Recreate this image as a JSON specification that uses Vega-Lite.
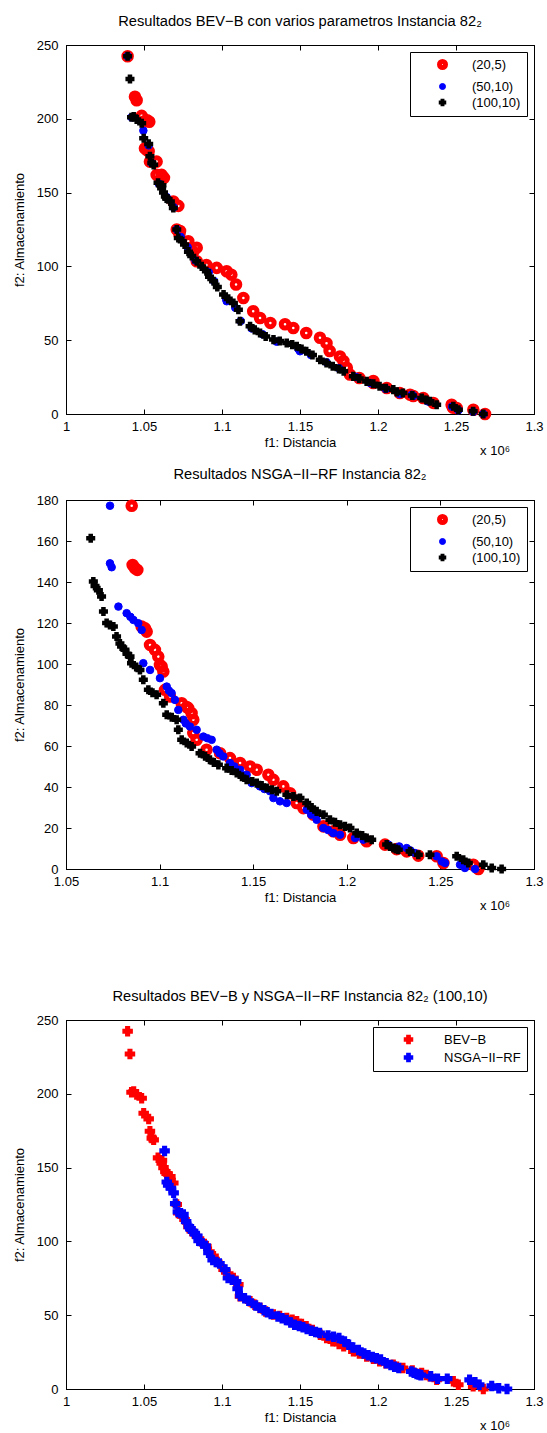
{
  "$schema": "https://vega.github.io/schema/vega-lite/v6.json",
  "padding": {"left": 12, "top": 13, "right": 0, "bottom": 0},
  "background": "white",
  "datasets": {
    "pts": [
      {"alg":"BEV−B","cfg":"(20,5)","f1":1.0395,"f2":242.4},{"alg":"BEV−B","cfg":"(20,5)","f1":1.0442,"f2":215},{"alg":"BEV−B","cfg":"(20,5)","f1":1.0453,"f2":212.6},{"alg":"BEV−B","cfg":"(20,5)","f1":1.0485,"f2":202},{"alg":"BEV−B","cfg":"(20,5)","f1":1.0506,"f2":198.5},{"alg":"BEV−B","cfg":"(20,5)","f1":1.052,"f2":199},{"alg":"BEV−B","cfg":"(20,5)","f1":1.0534,"f2":198},{"alg":"BEV−B","cfg":"(20,5)","f1":1.0506,"f2":180},{"alg":"BEV−B","cfg":"(20,5)","f1":1.0517,"f2":179},{"alg":"BEV−B","cfg":"(20,5)","f1":1.053,"f2":178},{"alg":"BEV−B","cfg":"(20,5)","f1":1.0538,"f2":171},{"alg":"BEV−B","cfg":"(20,5)","f1":1.0581,"f2":171},{"alg":"BEV−B","cfg":"(20,5)","f1":1.0581,"f2":162},{"alg":"BEV−B","cfg":"(20,5)","f1":1.0613,"f2":162},{"alg":"BEV−B","cfg":"(20,5)","f1":1.0628,"f2":160},{"alg":"BEV−B","cfg":"(20,5)","f1":1.0688,"f2":144},{"alg":"BEV−B","cfg":"(20,5)","f1":1.072,"f2":141},{"alg":"BEV−B","cfg":"(20,5)","f1":1.071,"f2":125},{"alg":"BEV−B","cfg":"(20,5)","f1":1.0731,"f2":124},{"alg":"BEV−B","cfg":"(20,5)","f1":1.0727,"f2":121.7},{"alg":"BEV−B","cfg":"(20,5)","f1":1.0784,"f2":117},{"alg":"BEV−B","cfg":"(20,5)","f1":1.0838,"f2":112.7},{"alg":"BEV−B","cfg":"(20,5)","f1":1.0816,"f2":110},{"alg":"BEV−B","cfg":"(20,5)","f1":1.0838,"f2":103.5},{"alg":"BEV−B","cfg":"(20,5)","f1":1.09,"f2":101},{"alg":"BEV−B","cfg":"(20,5)","f1":1.0966,"f2":99},{"alg":"BEV−B","cfg":"(20,5)","f1":1.103,"f2":96.7},{"alg":"BEV−B","cfg":"(20,5)","f1":1.106,"f2":94.4},{"alg":"BEV−B","cfg":"(20,5)","f1":1.109,"f2":87.7},{"alg":"BEV−B","cfg":"(20,5)","f1":1.1137,"f2":78.6},{"alg":"BEV−B","cfg":"(20,5)","f1":1.12,"f2":69.6},{"alg":"BEV−B","cfg":"(20,5)","f1":1.1244,"f2":65},{"alg":"BEV−B","cfg":"(20,5)","f1":1.131,"f2":61.7},{"alg":"BEV−B","cfg":"(20,5)","f1":1.1404,"f2":60.8},{"alg":"BEV−B","cfg":"(20,5)","f1":1.1457,"f2":58.3},{"alg":"BEV−B","cfg":"(20,5)","f1":1.154,"f2":54.9},{"alg":"BEV−B","cfg":"(20,5)","f1":1.1628,"f2":51.7},{"alg":"BEV−B","cfg":"(20,5)","f1":1.167,"f2":48},{"alg":"BEV−B","cfg":"(20,5)","f1":1.169,"f2":42.7},{"alg":"BEV−B","cfg":"(20,5)","f1":1.1756,"f2":39},{"alg":"BEV−B","cfg":"(20,5)","f1":1.1778,"f2":35.9},{"alg":"BEV−B","cfg":"(20,5)","f1":1.18,"f2":31.4},{"alg":"BEV−B","cfg":"(20,5)","f1":1.182,"f2":26.7},{"alg":"BEV−B","cfg":"(20,5)","f1":1.188,"f2":24.4},{"alg":"BEV−B","cfg":"(20,5)","f1":1.197,"f2":21},{"alg":"BEV−B","cfg":"(20,5)","f1":1.197,"f2":22.4},{"alg":"BEV−B","cfg":"(20,5)","f1":1.2056,"f2":17.6},{"alg":"BEV−B","cfg":"(20,5)","f1":1.214,"f2":14.2},{"alg":"BEV−B","cfg":"(20,5)","f1":1.2205,"f2":13.1},{"alg":"BEV−B","cfg":"(20,5)","f1":1.2226,"f2":12.2},{"alg":"BEV−B","cfg":"(20,5)","f1":1.229,"f2":10.8},{"alg":"BEV−B","cfg":"(20,5)","f1":1.2355,"f2":7.5},{"alg":"BEV−B","cfg":"(20,5)","f1":1.2472,"f2":6.3},{"alg":"BEV−B","cfg":"(20,5)","f1":1.248,"f2":4.3},{"alg":"BEV−B","cfg":"(20,5)","f1":1.2504,"f2":4.1},{"alg":"BEV−B","cfg":"(20,5)","f1":1.2611,"f2":2.9},{"alg":"BEV−B","cfg":"(20,5)","f1":1.2686,"f2":0},
      {"alg":"BEV−B","cfg":"(50,10)","f1":1.0395,"f2":242.4},{"alg":"BEV−B","cfg":"(50,10)","f1":1.042,"f2":201},{"alg":"BEV−B","cfg":"(50,10)","f1":1.0496,"f2":192},{"alg":"BEV−B","cfg":"(50,10)","f1":1.053,"f2":182},{"alg":"BEV−B","cfg":"(50,10)","f1":1.055,"f2":170},{"alg":"BEV−B","cfg":"(50,10)","f1":1.0595,"f2":156},{"alg":"BEV−B","cfg":"(50,10)","f1":1.0645,"f2":147},{"alg":"BEV−B","cfg":"(50,10)","f1":1.069,"f2":140},{"alg":"BEV−B","cfg":"(50,10)","f1":1.071,"f2":125},{"alg":"BEV−B","cfg":"(50,10)","f1":1.0735,"f2":120},{"alg":"BEV−B","cfg":"(50,10)","f1":1.078,"f2":113},{"alg":"BEV−B","cfg":"(50,10)","f1":1.083,"f2":104},{"alg":"BEV−B","cfg":"(50,10)","f1":1.0915,"f2":96},{"alg":"BEV−B","cfg":"(50,10)","f1":1.095,"f2":90},{"alg":"BEV−B","cfg":"(50,10)","f1":1.1026,"f2":78},{"alg":"BEV−B","cfg":"(50,10)","f1":1.103,"f2":76.4},{"alg":"BEV−B","cfg":"(50,10)","f1":1.1085,"f2":72},{"alg":"BEV−B","cfg":"(50,10)","f1":1.112,"f2":63},{"alg":"BEV−B","cfg":"(50,10)","f1":1.119,"f2":58},{"alg":"BEV−B","cfg":"(50,10)","f1":1.126,"f2":54},{"alg":"BEV−B","cfg":"(50,10)","f1":1.135,"f2":49},{"alg":"BEV−B","cfg":"(50,10)","f1":1.149,"f2":44},{"alg":"BEV−B","cfg":"(50,10)","f1":1.15,"f2":42.5},{"alg":"BEV−B","cfg":"(50,10)","f1":1.157,"f2":40},{"alg":"BEV−B","cfg":"(50,10)","f1":1.167,"f2":35},{"alg":"BEV−B","cfg":"(50,10)","f1":1.175,"f2":31},{"alg":"BEV−B","cfg":"(50,10)","f1":1.186,"f2":25},{"alg":"BEV−B","cfg":"(50,10)","f1":1.195,"f2":21},{"alg":"BEV−B","cfg":"(50,10)","f1":1.205,"f2":17},{"alg":"BEV−B","cfg":"(50,10)","f1":1.214,"f2":13.5},{"alg":"BEV−B","cfg":"(50,10)","f1":1.2216,"f2":13},{"alg":"BEV−B","cfg":"(50,10)","f1":1.2226,"f2":12.2},{"alg":"BEV−B","cfg":"(50,10)","f1":1.232,"f2":8.5},{"alg":"BEV−B","cfg":"(50,10)","f1":1.2475,"f2":5},{"alg":"BEV−B","cfg":"(50,10)","f1":1.2515,"f2":2.5},{"alg":"BEV−B","cfg":"(50,10)","f1":1.261,"f2":1.5},{"alg":"BEV−B","cfg":"(50,10)","f1":1.2675,"f2":0},
      {"alg":"BEV−B","cfg":"(100,10)","f1":1.0395,"f2":242.4},{"alg":"BEV−B","cfg":"(100,10)","f1":1.041,"f2":227},{"alg":"BEV−B","cfg":"(100,10)","f1":1.042,"f2":201},{"alg":"BEV−B","cfg":"(100,10)","f1":1.0434,"f2":201.5},{"alg":"BEV−B","cfg":"(100,10)","f1":1.0453,"f2":199.5},{"alg":"BEV−B","cfg":"(100,10)","f1":1.0485,"f2":197},{"alg":"BEV−B","cfg":"(100,10)","f1":1.0498,"f2":186.8},{"alg":"BEV−B","cfg":"(100,10)","f1":1.053,"f2":183},{"alg":"BEV−B","cfg":"(100,10)","f1":1.0538,"f2":174.6},{"alg":"BEV−B","cfg":"(100,10)","f1":1.055,"f2":170},{"alg":"BEV−B","cfg":"(100,10)","f1":1.0562,"f2":168.8},{"alg":"BEV−B","cfg":"(100,10)","f1":1.059,"f2":156.6},{"alg":"BEV−B","cfg":"(100,10)","f1":1.0615,"f2":155},{"alg":"BEV−B","cfg":"(100,10)","f1":1.0613,"f2":153},{"alg":"BEV−B","cfg":"(100,10)","f1":1.0625,"f2":150},{"alg":"BEV−B","cfg":"(100,10)","f1":1.0637,"f2":147.3},{"alg":"BEV−B","cfg":"(100,10)","f1":1.0645,"f2":146},{"alg":"BEV−B","cfg":"(100,10)","f1":1.0669,"f2":144},{"alg":"BEV−B","cfg":"(100,10)","f1":1.0688,"f2":139.6},{"alg":"BEV−B","cfg":"(100,10)","f1":1.071,"f2":125},{"alg":"BEV−B","cfg":"(100,10)","f1":1.072,"f2":119.3},{"alg":"BEV−B","cfg":"(100,10)","f1":1.0745,"f2":117},{"alg":"BEV−B","cfg":"(100,10)","f1":1.076,"f2":114.8},{"alg":"BEV−B","cfg":"(100,10)","f1":1.0785,"f2":110},{"alg":"BEV−B","cfg":"(100,10)","f1":1.0806,"f2":107},{"alg":"BEV−B","cfg":"(100,10)","f1":1.0838,"f2":103.5},{"alg":"BEV−B","cfg":"(100,10)","f1":1.087,"f2":100},{"alg":"BEV−B","cfg":"(100,10)","f1":1.09,"f2":96.7},{"alg":"BEV−B","cfg":"(100,10)","f1":1.092,"f2":93},{"alg":"BEV−B","cfg":"(100,10)","f1":1.0946,"f2":90},{"alg":"BEV−B","cfg":"(100,10)","f1":1.097,"f2":86},{"alg":"BEV−B","cfg":"(100,10)","f1":1.101,"f2":81},{"alg":"BEV−B","cfg":"(100,10)","f1":1.104,"f2":78},{"alg":"BEV−B","cfg":"(100,10)","f1":1.1073,"f2":75.2},{"alg":"BEV−B","cfg":"(100,10)","f1":1.1105,"f2":70.7},{"alg":"BEV−B","cfg":"(100,10)","f1":1.1115,"f2":62.8},{"alg":"BEV−B","cfg":"(100,10)","f1":1.118,"f2":59.4},{"alg":"BEV−B","cfg":"(100,10)","f1":1.121,"f2":57},{"alg":"BEV−B","cfg":"(100,10)","f1":1.1244,"f2":54.9},{"alg":"BEV−B","cfg":"(100,10)","f1":1.128,"f2":52.5},{"alg":"BEV−B","cfg":"(100,10)","f1":1.133,"f2":50.4},{"alg":"BEV−B","cfg":"(100,10)","f1":1.137,"f2":49.5},{"alg":"BEV−B","cfg":"(100,10)","f1":1.1415,"f2":48.1},{"alg":"BEV−B","cfg":"(100,10)","f1":1.145,"f2":47},{"alg":"BEV−B","cfg":"(100,10)","f1":1.1479,"f2":45.9},{"alg":"BEV−B","cfg":"(100,10)","f1":1.151,"f2":44},{"alg":"BEV−B","cfg":"(100,10)","f1":1.154,"f2":42.5},{"alg":"BEV−B","cfg":"(100,10)","f1":1.158,"f2":40},{"alg":"BEV−B","cfg":"(100,10)","f1":1.163,"f2":36.8},{"alg":"BEV−B","cfg":"(100,10)","f1":1.167,"f2":34.5},{"alg":"BEV−B","cfg":"(100,10)","f1":1.171,"f2":32.3},{"alg":"BEV−B","cfg":"(100,10)","f1":1.175,"f2":30.5},{"alg":"BEV−B","cfg":"(100,10)","f1":1.178,"f2":28.9},{"alg":"BEV−B","cfg":"(100,10)","f1":1.1842,"f2":25.5},{"alg":"BEV−B","cfg":"(100,10)","f1":1.188,"f2":24},{"alg":"BEV−B","cfg":"(100,10)","f1":1.1927,"f2":22.1},{"alg":"BEV−B","cfg":"(100,10)","f1":1.197,"f2":20.5},{"alg":"BEV−B","cfg":"(100,10)","f1":1.201,"f2":18.8},{"alg":"BEV−B","cfg":"(100,10)","f1":1.205,"f2":17.5},{"alg":"BEV−B","cfg":"(100,10)","f1":1.2098,"f2":16.5},{"alg":"BEV−B","cfg":"(100,10)","f1":1.212,"f2":15},{"alg":"BEV−B","cfg":"(100,10)","f1":1.216,"f2":14.2},{"alg":"BEV−B","cfg":"(100,10)","f1":1.222,"f2":12.5},{"alg":"BEV−B","cfg":"(100,10)","f1":1.228,"f2":10.8},{"alg":"BEV−B","cfg":"(100,10)","f1":1.231,"f2":9.5},{"alg":"BEV−B","cfg":"(100,10)","f1":1.2333,"f2":8.6},{"alg":"BEV−B","cfg":"(100,10)","f1":1.2376,"f2":6.3},{"alg":"BEV−B","cfg":"(100,10)","f1":1.2483,"f2":5.2},{"alg":"BEV−B","cfg":"(100,10)","f1":1.2515,"f2":2.9},{"alg":"BEV−B","cfg":"(100,10)","f1":1.261,"f2":1.8},{"alg":"BEV−B","cfg":"(100,10)","f1":1.2675,"f2":0},
      {"alg":"NSGA−II−RF","cfg":"(20,5)","f1":1.0851,"f2":177.2},{"alg":"NSGA−II−RF","cfg":"(20,5)","f1":1.0856,"f2":148.3},{"alg":"NSGA−II−RF","cfg":"(20,5)","f1":1.0869,"f2":146.7},{"alg":"NSGA−II−RF","cfg":"(20,5)","f1":1.0881,"f2":145.9},{"alg":"NSGA−II−RF","cfg":"(20,5)","f1":1.0904,"f2":118.3},{"alg":"NSGA−II−RF","cfg":"(20,5)","f1":1.0922,"f2":117.4},{"alg":"NSGA−II−RF","cfg":"(20,5)","f1":1.0931,"f2":115.8},{"alg":"NSGA−II−RF","cfg":"(20,5)","f1":1.0949,"f2":109.3},{"alg":"NSGA−II−RF","cfg":"(20,5)","f1":1.0975,"f2":106.9},{"alg":"NSGA−II−RF","cfg":"(20,5)","f1":1.0993,"f2":103.6},{"alg":"NSGA−II−RF","cfg":"(20,5)","f1":1.1002,"f2":99.5},{"alg":"NSGA−II−RF","cfg":"(20,5)","f1":1.1011,"f2":98.8},{"alg":"NSGA−II−RF","cfg":"(20,5)","f1":1.102,"f2":96.3},{"alg":"NSGA−II−RF","cfg":"(20,5)","f1":1.1029,"f2":87.4},{"alg":"NSGA−II−RF","cfg":"(20,5)","f1":1.1056,"f2":84.1},{"alg":"NSGA−II−RF","cfg":"(20,5)","f1":1.1118,"f2":80.9},{"alg":"NSGA−II−RF","cfg":"(20,5)","f1":1.1145,"f2":79},{"alg":"NSGA−II−RF","cfg":"(20,5)","f1":1.1153,"f2":78.5},{"alg":"NSGA−II−RF","cfg":"(20,5)","f1":1.1171,"f2":76},{"alg":"NSGA−II−RF","cfg":"(20,5)","f1":1.118,"f2":72.8},{"alg":"NSGA−II−RF","cfg":"(20,5)","f1":1.118,"f2":66.3},{"alg":"NSGA−II−RF","cfg":"(20,5)","f1":1.1198,"f2":63},{"alg":"NSGA−II−RF","cfg":"(20,5)","f1":1.1251,"f2":58.2},{"alg":"NSGA−II−RF","cfg":"(20,5)","f1":1.1323,"f2":56.5},{"alg":"NSGA−II−RF","cfg":"(20,5)","f1":1.1376,"f2":54.1},{"alg":"NSGA−II−RF","cfg":"(20,5)","f1":1.143,"f2":51.7},{"alg":"NSGA−II−RF","cfg":"(20,5)","f1":1.1483,"f2":50},{"alg":"NSGA−II−RF","cfg":"(20,5)","f1":1.1519,"f2":48.4},{"alg":"NSGA−II−RF","cfg":"(20,5)","f1":1.1581,"f2":46},{"alg":"NSGA−II−RF","cfg":"(20,5)","f1":1.1608,"f2":43.5},{"alg":"NSGA−II−RF","cfg":"(20,5)","f1":1.1661,"f2":40.3},{"alg":"NSGA−II−RF","cfg":"(20,5)","f1":1.1697,"f2":37},{"alg":"NSGA−II−RF","cfg":"(20,5)","f1":1.1732,"f2":32.2},{"alg":"NSGA−II−RF","cfg":"(20,5)","f1":1.1768,"f2":29.7},{"alg":"NSGA−II−RF","cfg":"(20,5)","f1":1.1821,"f2":26.5},{"alg":"NSGA−II−RF","cfg":"(20,5)","f1":1.1875,"f2":20.8},{"alg":"NSGA−II−RF","cfg":"(20,5)","f1":1.1928,"f2":18.4},{"alg":"NSGA−II−RF","cfg":"(20,5)","f1":1.1964,"f2":16.7},{"alg":"NSGA−II−RF","cfg":"(20,5)","f1":1.2035,"f2":15.1},{"alg":"NSGA−II−RF","cfg":"(20,5)","f1":1.2106,"f2":13.5},{"alg":"NSGA−II−RF","cfg":"(20,5)","f1":1.2204,"f2":11.9},{"alg":"NSGA−II−RF","cfg":"(20,5)","f1":1.2266,"f2":9.7},{"alg":"NSGA−II−RF","cfg":"(20,5)","f1":1.232,"f2":8.6},{"alg":"NSGA−II−RF","cfg":"(20,5)","f1":1.2382,"f2":6.5},{"alg":"NSGA−II−RF","cfg":"(20,5)","f1":1.248,"f2":6.2},{"alg":"NSGA−II−RF","cfg":"(20,5)","f1":1.2516,"f2":2.9},{"alg":"NSGA−II−RF","cfg":"(20,5)","f1":1.2676,"f2":2.1},{"alg":"NSGA−II−RF","cfg":"(20,5)","f1":1.2703,"f2":0},
      {"alg":"NSGA−II−RF","cfg":"(50,10)","f1":1.0735,"f2":177.2},{"alg":"NSGA−II−RF","cfg":"(50,10)","f1":1.0735,"f2":149.1},{"alg":"NSGA−II−RF","cfg":"(50,10)","f1":1.0744,"f2":147.2},{"alg":"NSGA−II−RF","cfg":"(50,10)","f1":1.078,"f2":128},{"alg":"NSGA−II−RF","cfg":"(50,10)","f1":1.0824,"f2":124.8},{"alg":"NSGA−II−RF","cfg":"(50,10)","f1":1.0844,"f2":123},{"alg":"NSGA−II−RF","cfg":"(50,10)","f1":1.086,"f2":121.5},{"alg":"NSGA−II−RF","cfg":"(50,10)","f1":1.0886,"f2":119.9},{"alg":"NSGA−II−RF","cfg":"(50,10)","f1":1.0904,"f2":116.6},{"alg":"NSGA−II−RF","cfg":"(50,10)","f1":1.0913,"f2":100.4},{"alg":"NSGA−II−RF","cfg":"(50,10)","f1":1.0949,"f2":97.1},{"alg":"NSGA−II−RF","cfg":"(50,10)","f1":1.1002,"f2":93.1},{"alg":"NSGA−II−RF","cfg":"(50,10)","f1":1.1038,"f2":89},{"alg":"NSGA−II−RF","cfg":"(50,10)","f1":1.105,"f2":87},{"alg":"NSGA−II−RF","cfg":"(50,10)","f1":1.1064,"f2":85.8},{"alg":"NSGA−II−RF","cfg":"(50,10)","f1":1.1082,"f2":82.5},{"alg":"NSGA−II−RF","cfg":"(50,10)","f1":1.11,"f2":77.6},{"alg":"NSGA−II−RF","cfg":"(50,10)","f1":1.1127,"f2":72.8},{"alg":"NSGA−II−RF","cfg":"(50,10)","f1":1.114,"f2":71},{"alg":"NSGA−II−RF","cfg":"(50,10)","f1":1.1162,"f2":69.5},{"alg":"NSGA−II−RF","cfg":"(50,10)","f1":1.1198,"f2":67.9},{"alg":"NSGA−II−RF","cfg":"(50,10)","f1":1.1234,"f2":64.6},{"alg":"NSGA−II−RF","cfg":"(50,10)","f1":1.1255,"f2":63.8},{"alg":"NSGA−II−RF","cfg":"(50,10)","f1":1.1278,"f2":63},{"alg":"NSGA−II−RF","cfg":"(50,10)","f1":1.1305,"f2":58.2},{"alg":"NSGA−II−RF","cfg":"(50,10)","f1":1.132,"f2":56.5},{"alg":"NSGA−II−RF","cfg":"(50,10)","f1":1.134,"f2":54.9},{"alg":"NSGA−II−RF","cfg":"(50,10)","f1":1.1376,"f2":51.7},{"alg":"NSGA−II−RF","cfg":"(50,10)","f1":1.14,"f2":50},{"alg":"NSGA−II−RF","cfg":"(50,10)","f1":1.143,"f2":48.4},{"alg":"NSGA−II−RF","cfg":"(50,10)","f1":1.1465,"f2":46},{"alg":"NSGA−II−RF","cfg":"(50,10)","f1":1.1492,"f2":41.9},{"alg":"NSGA−II−RF","cfg":"(50,10)","f1":1.1536,"f2":40.3},{"alg":"NSGA−II−RF","cfg":"(50,10)","f1":1.156,"f2":39},{"alg":"NSGA−II−RF","cfg":"(50,10)","f1":1.159,"f2":37.9},{"alg":"NSGA−II−RF","cfg":"(50,10)","f1":1.1608,"f2":34.6},{"alg":"NSGA−II−RF","cfg":"(50,10)","f1":1.1643,"f2":33},{"alg":"NSGA−II−RF","cfg":"(50,10)","f1":1.1679,"f2":32.2},{"alg":"NSGA−II−RF","cfg":"(50,10)","f1":1.1786,"f2":28.9},{"alg":"NSGA−II−RF","cfg":"(50,10)","f1":1.181,"f2":26.5},{"alg":"NSGA−II−RF","cfg":"(50,10)","f1":1.1839,"f2":24},{"alg":"NSGA−II−RF","cfg":"(50,10)","f1":1.1875,"f2":20},{"alg":"NSGA−II−RF","cfg":"(50,10)","f1":1.19,"f2":19},{"alg":"NSGA−II−RF","cfg":"(50,10)","f1":1.1928,"f2":17.5},{"alg":"NSGA−II−RF","cfg":"(50,10)","f1":1.1964,"f2":16.7},{"alg":"NSGA−II−RF","cfg":"(50,10)","f1":1.2044,"f2":15.1},{"alg":"NSGA−II−RF","cfg":"(50,10)","f1":1.2088,"f2":14.3},{"alg":"NSGA−II−RF","cfg":"(50,10)","f1":1.2222,"f2":11.9},{"alg":"NSGA−II−RF","cfg":"(50,10)","f1":1.228,"f2":11},{"alg":"NSGA−II−RF","cfg":"(50,10)","f1":1.232,"f2":10.2},{"alg":"NSGA−II−RF","cfg":"(50,10)","f1":1.234,"f2":9},{"alg":"NSGA−II−RF","cfg":"(50,10)","f1":1.2364,"f2":7.8},{"alg":"NSGA−II−RF","cfg":"(50,10)","f1":1.248,"f2":6.2},{"alg":"NSGA−II−RF","cfg":"(50,10)","f1":1.2507,"f2":3.7},{"alg":"NSGA−II−RF","cfg":"(50,10)","f1":1.2525,"f2":2.9},{"alg":"NSGA−II−RF","cfg":"(50,10)","f1":1.2605,"f2":2.1},{"alg":"NSGA−II−RF","cfg":"(50,10)","f1":1.2631,"f2":0.5},{"alg":"NSGA−II−RF","cfg":"(50,10)","f1":1.2685,"f2":0},
      {"alg":"NSGA−II−RF","cfg":"(100,10)","f1":1.0632,"f2":161.3},{"alg":"NSGA−II−RF","cfg":"(100,10)","f1":1.0646,"f2":140.2},{"alg":"NSGA−II−RF","cfg":"(100,10)","f1":1.0655,"f2":138},{"alg":"NSGA−II−RF","cfg":"(100,10)","f1":1.0673,"f2":136},{"alg":"NSGA−II−RF","cfg":"(100,10)","f1":1.069,"f2":132.9},{"alg":"NSGA−II−RF","cfg":"(100,10)","f1":1.07,"f2":125.6},{"alg":"NSGA−II−RF","cfg":"(100,10)","f1":1.0717,"f2":120},{"alg":"NSGA−II−RF","cfg":"(100,10)","f1":1.0735,"f2":119},{"alg":"NSGA−II−RF","cfg":"(100,10)","f1":1.0753,"f2":118.3},{"alg":"NSGA−II−RF","cfg":"(100,10)","f1":1.077,"f2":113.4},{"alg":"NSGA−II−RF","cfg":"(100,10)","f1":1.0788,"f2":110},{"alg":"NSGA−II−RF","cfg":"(100,10)","f1":1.0797,"f2":108.5},{"alg":"NSGA−II−RF","cfg":"(100,10)","f1":1.0815,"f2":106.9},{"alg":"NSGA−II−RF","cfg":"(100,10)","f1":1.0826,"f2":105},{"alg":"NSGA−II−RF","cfg":"(100,10)","f1":1.0842,"f2":103.6},{"alg":"NSGA−II−RF","cfg":"(100,10)","f1":1.085,"f2":100.4},{"alg":"NSGA−II−RF","cfg":"(100,10)","f1":1.0875,"f2":98.5},{"alg":"NSGA−II−RF","cfg":"(100,10)","f1":1.0895,"f2":97.1},{"alg":"NSGA−II−RF","cfg":"(100,10)","f1":1.0913,"f2":92.3},{"alg":"NSGA−II−RF","cfg":"(100,10)","f1":1.094,"f2":87.4},{"alg":"NSGA−II−RF","cfg":"(100,10)","f1":1.0962,"f2":86},{"alg":"NSGA−II−RF","cfg":"(100,10)","f1":1.0984,"f2":85},{"alg":"NSGA−II−RF","cfg":"(100,10)","f1":1.102,"f2":80.9},{"alg":"NSGA−II−RF","cfg":"(100,10)","f1":1.1038,"f2":75.2},{"alg":"NSGA−II−RF","cfg":"(100,10)","f1":1.1065,"f2":74},{"alg":"NSGA−II−RF","cfg":"(100,10)","f1":1.1091,"f2":72.8},{"alg":"NSGA−II−RF","cfg":"(100,10)","f1":1.11,"f2":67.9},{"alg":"NSGA−II−RF","cfg":"(100,10)","f1":1.1118,"f2":63},{"alg":"NSGA−II−RF","cfg":"(100,10)","f1":1.1145,"f2":61.5},{"alg":"NSGA−II−RF","cfg":"(100,10)","f1":1.1171,"f2":59.8},{"alg":"NSGA−II−RF","cfg":"(100,10)","f1":1.1216,"f2":56.5},{"alg":"NSGA−II−RF","cfg":"(100,10)","f1":1.1243,"f2":55},{"alg":"NSGA−II−RF","cfg":"(100,10)","f1":1.1269,"f2":53.3},{"alg":"NSGA−II−RF","cfg":"(100,10)","f1":1.129,"f2":52},{"alg":"NSGA−II−RF","cfg":"(100,10)","f1":1.1314,"f2":50.8},{"alg":"NSGA−II−RF","cfg":"(100,10)","f1":1.1358,"f2":49.2},{"alg":"NSGA−II−RF","cfg":"(100,10)","f1":1.1385,"f2":48},{"alg":"NSGA−II−RF","cfg":"(100,10)","f1":1.1412,"f2":46.8},{"alg":"NSGA−II−RF","cfg":"(100,10)","f1":1.144,"f2":45},{"alg":"NSGA−II−RF","cfg":"(100,10)","f1":1.1465,"f2":43.5},{"alg":"NSGA−II−RF","cfg":"(100,10)","f1":1.1495,"f2":42.7},{"alg":"NSGA−II−RF","cfg":"(100,10)","f1":1.1519,"f2":41.9},{"alg":"NSGA−II−RF","cfg":"(100,10)","f1":1.1545,"f2":40.7},{"alg":"NSGA−II−RF","cfg":"(100,10)","f1":1.1572,"f2":39.5},{"alg":"NSGA−II−RF","cfg":"(100,10)","f1":1.16,"f2":38.7},{"alg":"NSGA−II−RF","cfg":"(100,10)","f1":1.1626,"f2":37.9},{"alg":"NSGA−II−RF","cfg":"(100,10)","f1":1.168,"f2":36.2},{"alg":"NSGA−II−RF","cfg":"(100,10)","f1":1.1715,"f2":35.4},{"alg":"NSGA−II−RF","cfg":"(100,10)","f1":1.175,"f2":34.6},{"alg":"NSGA−II−RF","cfg":"(100,10)","f1":1.1786,"f2":32.2},{"alg":"NSGA−II−RF","cfg":"(100,10)","f1":1.1812,"f2":30},{"alg":"NSGA−II−RF","cfg":"(100,10)","f1":1.1839,"f2":28.1},{"alg":"NSGA−II−RF","cfg":"(100,10)","f1":1.1875,"f2":26.5},{"alg":"NSGA−II−RF","cfg":"(100,10)","f1":1.191,"f2":24},{"alg":"NSGA−II−RF","cfg":"(100,10)","f1":1.1937,"f2":22.8},{"alg":"NSGA−II−RF","cfg":"(100,10)","f1":1.1964,"f2":21.6},{"alg":"NSGA−II−RF","cfg":"(100,10)","f1":1.199,"f2":20.8},{"alg":"NSGA−II−RF","cfg":"(100,10)","f1":1.2017,"f2":20},{"alg":"NSGA−II−RF","cfg":"(100,10)","f1":1.2053,"f2":17.5},{"alg":"NSGA−II−RF","cfg":"(100,10)","f1":1.2082,"f2":16.3},{"alg":"NSGA−II−RF","cfg":"(100,10)","f1":1.2106,"f2":15.1},{"alg":"NSGA−II−RF","cfg":"(100,10)","f1":1.2133,"f2":14.3},{"alg":"NSGA−II−RF","cfg":"(100,10)","f1":1.2213,"f2":11.9},{"alg":"NSGA−II−RF","cfg":"(100,10)","f1":1.2231,"f2":11},{"alg":"NSGA−II−RF","cfg":"(100,10)","f1":1.2249,"f2":10.2},{"alg":"NSGA−II−RF","cfg":"(100,10)","f1":1.2262,"f2":9.8},{"alg":"NSGA−II−RF","cfg":"(100,10)","f1":1.2275,"f2":9.4},{"alg":"NSGA−II−RF","cfg":"(100,10)","f1":1.2338,"f2":8.6},{"alg":"NSGA−II−RF","cfg":"(100,10)","f1":1.2382,"f2":7},{"alg":"NSGA−II−RF","cfg":"(100,10)","f1":1.2444,"f2":7},{"alg":"NSGA−II−RF","cfg":"(100,10)","f1":1.2587,"f2":6.2},{"alg":"NSGA−II−RF","cfg":"(100,10)","f1":1.2622,"f2":4.5},{"alg":"NSGA−II−RF","cfg":"(100,10)","f1":1.2649,"f2":2.9},{"alg":"NSGA−II−RF","cfg":"(100,10)","f1":1.2729,"f2":2.1},{"alg":"NSGA−II−RF","cfg":"(100,10)","f1":1.2774,"f2":0.5},{"alg":"NSGA−II−RF","cfg":"(100,10)","f1":1.2827,"f2":0}
    ]
  },
  "config": {
    "font": "Liberation Sans",
    "view": {"stroke": "#000000", "strokeWidth": 1},
    "axis": {"labelFont": "Liberation Sans", "labelFontSize": 13, "titleFont": "Liberation Sans", "titleFontSize": 13, "titleFontWeight": "normal", "labelColor": "#000000", "titleColor": "#000000", "domainColor": "#000000", "tickColor": "#000000", "grid": false, "tickSize": -5, "labelFlush": false, "labelOverlap": false},
    "axisX": {"labelPadding": 11, "titlePadding": 3},
    "axisY": {"labelPadding": 13, "titlePadding": 10},
    "title": {"font": "Liberation Sans", "fontSize": 14.7, "fontWeight": "normal", "color": "#000000", "anchor": "middle", "baseline": "alphabetic", "offset": 10},
    "legend": {"orient": "top-right", "offset": 7, "strokeColor": "#000000", "fillColor": "#ffffff", "padding": 6, "symbolOffset": 20, "labelOffset": 23, "rowPadding": 2, "symbolSize": 36, "labelFont": "Liberation Sans", "labelFontSize": 13, "labelColor": "#000000", "cornerRadius": 0}
  },
  "spacing": 74,
  "resolve": {
    "scale": {"fill": "independent", "stroke": "independent", "shape": "independent", "strokeWidth": "independent"},
    "legend": {"fill": "independent", "stroke": "independent", "shape": "independent", "strokeWidth": "independent"}
  },
  "vconcat": [
    {
      "spacing": 7,
      "resolve": {
        "scale": {"fill": "independent", "stroke": "independent", "shape": "independent", "strokeWidth": "independent"},
        "legend": {"fill": "independent", "stroke": "independent", "shape": "independent", "strokeWidth": "independent"}
      },
      "vconcat": [
        {
          "width": 468, "height": 369,
          "title": {"text": "Resultados BEV−B con varios parametros Instancia 82₂"},
          "layer": [
            {
              "data": {"name": "pts"},
              "transform": [{"filter": "datum.alg == 'BEV−B'"}],
              "mark": {"type": "point", "size": 57, "opacity": 1},
              "encoding": {
                "x": {"field": "f1", "type": "quantitative", "scale": {"domain": [1, 1.3], "nice": false, "zero": false}, "axis": {"title": "f1: Distancia", "values": [1, 1.05, 1.1, 1.15, 1.2, 1.25, 1.3], "format": "~g"}},
                "y": {"field": "f2", "type": "quantitative", "scale": {"domain": [0, 250], "nice": false}, "axis": {"title": "f2: Almacenamiento", "values": [0, 50, 100, 150, 200, 250]}},
                "stroke": {"field": "cfg", "type": "nominal", "scale": {"domain": ["(20,5)", "(50,10)", "(100,10)"], "range": ["#ff0000", "#0000ff", "#000000"]}, "legend": {"title": null, "encode": {"symbols": {"update": {"size": {"value": 36}}}}}},
                "fill": {"field": "cfg", "type": "nominal", "scale": {"domain": ["(20,5)", "(50,10)", "(100,10)"], "range": ["transparent", "#0000ff", "#000000"]}, "legend": {"title": null}},
                "shape": {"field": "cfg", "type": "nominal", "scale": {"domain": ["(20,5)", "(50,10)", "(100,10)"], "range": ["circle", "circle", "cross"]}, "legend": {"title": null}},
                "strokeWidth": {"field": "cfg", "type": "nominal", "scale": {"type": "ordinal", "domain": ["(20,5)", "(50,10)", "(100,10)"], "range": [5, 1, 1.5]}, "legend": {"title": null}}
              }
            },
            {
              "data": {"values": [{}]},
              "mark": {"type": "text", "text": "x 10⁶", "align": "right", "baseline": "middle", "dx": -24, "dy": 37, "font": "Liberation Sans", "fontSize": 13, "color": "#000000"},
              "encoding": {
                "x": {"datum": 1.3, "type": "quantitative", "axis": {"orient": "top", "labels": false, "title": null, "values": [1, 1.05, 1.1, 1.15, 1.2, 1.25, 1.3]}},
                "y": {"datum": 0, "type": "quantitative", "axis": {"orient": "right", "labels": false, "title": null, "values": [0, 50, 100, 150, 200, 250]}}
              }
            }
          ],
          "resolve": {"axis": {"x": "independent", "y": "independent"}}
        },
        {
          "width": 468, "height": 369,
          "title": {"text": "Resultados NSGA−II−RF   Instancia 82₂"},
          "layer": [
            {
              "data": {"name": "pts"},
              "transform": [{"filter": "datum.alg == 'NSGA−II−RF'"}],
              "mark": {"type": "point", "size": 57, "opacity": 1},
              "encoding": {
                "x": {"field": "f1", "type": "quantitative", "scale": {"domain": [1.05, 1.3], "nice": false, "zero": false}, "axis": {"title": "f1: Distancia", "values": [1.05, 1.1, 1.15, 1.2, 1.25, 1.3], "format": "~g"}},
                "y": {"field": "f2", "type": "quantitative", "scale": {"domain": [0, 180], "nice": false}, "axis": {"title": "f2: Almacenamiento", "values": [0, 20, 40, 60, 80, 100, 120, 140, 160, 180]}},
                "stroke": {"field": "cfg", "type": "nominal", "scale": {"domain": ["(20,5)", "(50,10)", "(100,10)"], "range": ["#ff0000", "#0000ff", "#000000"]}, "legend": {"title": null, "encode": {"symbols": {"update": {"size": {"value": 36}}}}}},
                "fill": {"field": "cfg", "type": "nominal", "scale": {"domain": ["(20,5)", "(50,10)", "(100,10)"], "range": ["transparent", "#0000ff", "#000000"]}, "legend": {"title": null}},
                "shape": {"field": "cfg", "type": "nominal", "scale": {"domain": ["(20,5)", "(50,10)", "(100,10)"], "range": ["circle", "circle", "cross"]}, "legend": {"title": null}},
                "strokeWidth": {"field": "cfg", "type": "nominal", "scale": {"type": "ordinal", "domain": ["(20,5)", "(50,10)", "(100,10)"], "range": [5, 1, 1.5]}, "legend": {"title": null}}
              }
            },
            {
              "data": {"values": [{}]},
              "mark": {"type": "text", "text": "x 10⁶", "align": "right", "baseline": "middle", "dx": -24, "dy": 37, "font": "Liberation Sans", "fontSize": 13, "color": "#000000"},
              "encoding": {
                "x": {"datum": 1.3, "type": "quantitative", "axis": {"orient": "top", "labels": false, "title": null, "values": [1.05, 1.1, 1.15, 1.2, 1.25, 1.3]}},
                "y": {"datum": 0, "type": "quantitative", "axis": {"orient": "right", "labels": false, "title": null, "values": [0, 20, 40, 60, 80, 100, 120, 140, 160, 180]}}
              }
            }
          ],
          "resolve": {"axis": {"x": "independent", "y": "independent"}}
        }
      ]
    },
    {
      "width": 468, "height": 369,
      "title": {"text": "Resultados BEV−B y NSGA−II−RF  Instancia 82₂ (100,10)"},
      "layer": [
        {
          "data": {"name": "pts"},
          "transform": [{"filter": "datum.cfg == '(100,10)'"}],
          "mark": {"type": "point", "shape": "cross", "size": 81, "strokeWidth": 1.5, "filled": true, "opacity": 1},
          "encoding": {
            "x": {"field": "f1", "type": "quantitative", "scale": {"domain": [1, 1.3], "nice": false, "zero": false}, "axis": {"title": "f1: Distancia", "values": [1, 1.05, 1.1, 1.15, 1.2, 1.25, 1.3], "format": "~g"}},
            "y": {"field": "f2", "type": "quantitative", "scale": {"domain": [0, 250], "nice": false}, "axis": {"title": "f2: Almacenamiento", "values": [0, 50, 100, 150, 200, 250]}},
            "fill": {"field": "alg", "type": "nominal", "scale": {"domain": ["BEV−B", "NSGA−II−RF"], "range": ["#ff0000", "#0000ff"]}, "legend": {"title": null, "symbolOffset": 23, "labelOffset": 29, "rowPadding": 3, "symbolSize": 64, "encode": {"symbols": {"update": {"size": {"value": 64}}}}}},
            "stroke": {"field": "alg", "type": "nominal", "scale": {"domain": ["BEV−B", "NSGA−II−RF"], "range": ["#ff0000", "#0000ff"]}, "legend": {"title": null, "symbolOffset": 23, "labelOffset": 29, "rowPadding": 3, "symbolSize": 64}}
          }
        },
        {
          "data": {"values": [{}]},
          "mark": {"type": "text", "text": "x 10⁶", "align": "right", "baseline": "middle", "dx": -24, "dy": 37, "font": "Liberation Sans", "fontSize": 13, "color": "#000000"},
          "encoding": {
            "x": {"datum": 1.3, "type": "quantitative", "axis": {"orient": "top", "labels": false, "title": null, "values": [1, 1.05, 1.1, 1.15, 1.2, 1.25, 1.3]}},
            "y": {"datum": 0, "type": "quantitative", "axis": {"orient": "right", "labels": false, "title": null, "values": [0, 50, 100, 150, 200, 250]}}
          }
        }
      ],
      "resolve": {"axis": {"x": "independent", "y": "independent"}}
    }
  ]
}
